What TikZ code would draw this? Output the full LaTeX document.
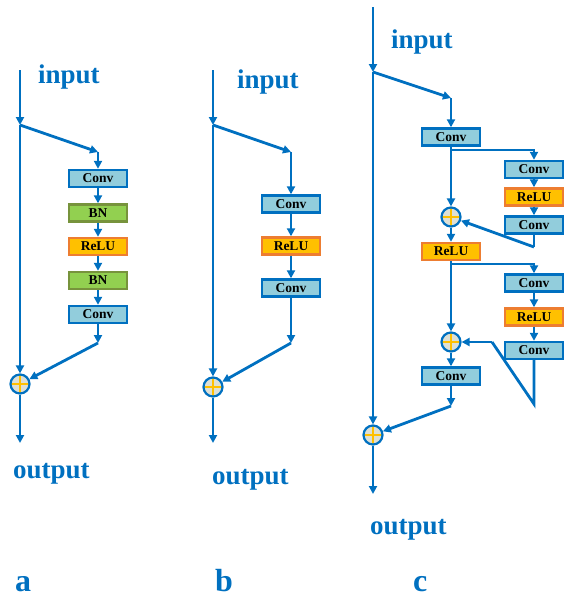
\documentclass[tikz,border=0pt]{standalone}
\usepackage{fontspec}
\setmainfont{Liberation Serif}
\usetikzlibrary{arrows.meta}
\definecolor{lblue}{RGB}{0,112,192}
\definecolor{convfill}{RGB}{146,205,220}
\definecolor{bnfill}{RGB}{146,208,80}
\definecolor{bnline}{RGB}{119,147,60}
\definecolor{relufill}{RGB}{255,192,0}
\definecolor{reluline}{RGB}{237,125,49}
\definecolor{sumfill}{RGB}{221,224,214}
\definecolor{crossc}{RGB}{255,192,0}
\begin{document}
\begin{tikzpicture}[x=1pt,y=-1pt,
  con/.style={line width=2.8pt, draw=lblue},
  arr/.style={con, -{Triangle[length=8pt,width=8pt]}},
  blk/.style={rectangle, minimum width=58pt, minimum height=17pt, inner sep=0pt, line width=2.4pt,
     font=\bfseries\fontsize{13.5}{14}\selectfont, text=black},
  convb/.style={blk, draw=lblue, fill=convfill},
  bnb/.style={blk, draw=bnline, fill=bnfill},
  relub/.style={blk, draw=reluline, fill=relufill},
  sumn/.style={circle, draw=lblue, fill=sumfill, line width=2.2pt, minimum size=19pt, inner sep=0pt,
     path picture={\draw[crossc, line width=2.4pt] (path picture bounding box.north) -- (path picture bounding box.south)
        (path picture bounding box.west) -- (path picture bounding box.east);}},
  lbl/.style={text=lblue, font=\bfseries\fontsize{27}{27}\selectfont, inner sep=0pt, anchor=base west},
  big/.style={text=lblue, font=\bfseries\fontsize{32}{32}\selectfont, inner sep=0pt, anchor=base west}
]
\useasboundingbox (0,0) rectangle (566,597);

% ---------------- a ----------------
\node[lbl] (ain) at (38,83) {input};
\node[lbl] (aout) at (13,478) {output};
\node[big] (alab) at (15,591) {a};
\coordinate (atop) at (20,70);
\coordinate (aj) at (20,125);
\coordinate (abr) at (98,152);
\coordinate (aend) at (98,343);
\coordinate (abot) at (20,443);
\node[convb] (ac1) at (98,178.5) {Conv};
\node[bnb] (ab1) at (98,213) {BN};
\node[relub] (ar1) at (98,246.5) {ReLU};
\node[bnb] (ab2) at (98,280.5) {BN};
\node[convb] (ac2) at (98,314.5) {Conv};
\node[sumn] (asum) at (20,384) {};
\draw[arr] (atop) -- (aj);
\draw[arr] (aj) -- (asum);
\draw[arr] (aj) -- (abr);
\draw[arr] (abr) -- (ac1);
\draw[arr] (ac1) -- (ab1);
\draw[arr] (ab1) -- (ar1);
\draw[arr] (ar1) -- (ab2);
\draw[arr] (ab2) -- (ac2);
\draw[arr] (ac2) -- (aend);
\draw[arr] (aend) -- (asum);
\draw[arr] (asum) -- (abot);

% ---------------- b ----------------
\node[lbl] (bin) at (237,88) {input};
\node[lbl] (bout) at (212,484) {output};
\node[big] (blab) at (215,591) {b};
\coordinate (btop) at (213,70);
\coordinate (bj) at (213,125);
\coordinate (bbr) at (291,152);
\coordinate (bend) at (291,343);
\coordinate (bbot) at (213,443);
\node[convb] (bc1) at (291,204) {Conv};
\node[relub] (br1) at (291,246) {ReLU};
\node[convb] (bc2) at (291,288) {Conv};
\node[sumn] (bsum) at (213,387) {};
\draw[arr] (btop) -- (bj);
\draw[arr] (bj) -- (bsum);
\draw[arr] (bj) -- (bbr);
\draw[arr] (bbr) -- (bc1);
\draw[arr] (bc1) -- (br1);
\draw[arr] (br1) -- (bc2);
\draw[arr] (bc2) -- (bend);
\draw[arr] (bend) -- (bsum);
\draw[arr] (bsum) -- (bbot);

% ---------------- c ----------------
\node[lbl] (cin) at (391,48) {input};
\node[lbl] (cout) at (370,534) {output};
\node[big] (clab) at (413,591) {c};
\coordinate (ctop) at (373,7);
\coordinate (cj) at (373,72);
\coordinate (cbr) at (451,98);
\coordinate (cs1) at (451,150);
\coordinate (ce1) at (534,247);
\coordinate (cs2) at (451,264);
\coordinate (ce2) at (534,404);
\coordinate (ck2) at (492,342);
\coordinate (cend) at (451,406);
\coordinate (cbot) at (373,494);
\node[convb] (cc1) at (451,137) {Conv};
\node[convb] (cc2) at (534,169.5) {Conv};
\node[relub] (cr2) at (534,197) {ReLU};
\node[convb] (cc3) at (534,225) {Conv};
\node[sumn] (csum1) at (451,217) {};
\node[relub] (cr1) at (451,251.5) {ReLU};
\node[convb] (cc4) at (534,283) {Conv};
\node[relub] (cr3) at (534,317) {ReLU};
\node[convb] (cc5) at (534,350.5) {Conv};
\node[sumn] (csum2) at (451,342) {};
\node[convb] (cc6) at (451,376) {Conv};
\node[sumn] (csum3) at (373,435) {};
\draw[arr] (ctop) -- (cj);
\draw[arr] (cj) -- (csum3);
\draw[arr] (cj) -- (cbr);
\draw[arr] (cbr) -- (cc1);
\draw[arr] (cc1) -- (csum1);
\draw[arr] (cs1) -| (cc2);
\draw[arr] (cc2) -- (cr2);
\draw[arr] (cr2) -- (cc3);
\draw[con] (cc3) -- (ce1);
\draw[arr] (ce1) -- (csum1);
\draw[arr] (csum1) -- (cr1);
\draw[arr] (cr1) -- (csum2);
\draw[arr] (cs2) -| (cc4);
\draw[arr] (cc4) -- (cr3);
\draw[arr] (cr3) -- (cc5);
\draw[con] (cc5) -- (ce2) -- (ck2);
\draw[arr] (ck2) -- (csum2);
\draw[arr] (csum2) -- (cc6);
\draw[arr] (cc6) -- (cend);
\draw[arr] (cend) -- (csum3);
\draw[arr] (csum3) -- (cbot);
\end{tikzpicture}
\end{document}
